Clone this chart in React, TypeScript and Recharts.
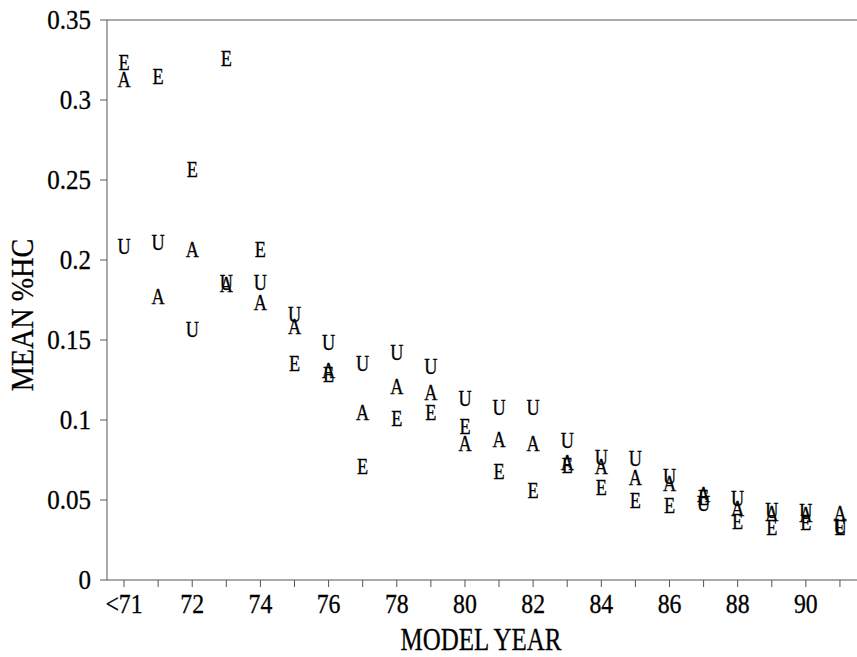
import { ReferenceLine, Scatter, ScatterChart, XAxis, YAxis } from "recharts";

// model years along the x axis (first bucket is everything before 1971)
const years = ["<71", "71", "72", "73", "74", "75", "76", "77", "78", "79", "80", "81", "82", "83", "84", "85", "86", "87", "88", "89", "90", "91"];

// mean %HC per model year, one list per group
const seriesU = [0.209, 0.211, 0.157, 0.186, 0.186, 0.166, 0.149, 0.1356, 0.1425, 0.134, 0.114, 0.108, 0.108, 0.0875, 0.077, 0.076, 0.065, 0.048, 0.051, 0.044, 0.043, 0.034];
const seriesA = [0.313, 0.1775, 0.207, 0.185, 0.174, 0.159, 0.131, 0.105, 0.121, 0.1175, 0.0856, 0.088, 0.0856, 0.074, 0.071, 0.0644, 0.0606, 0.054, 0.045, 0.042, 0.041, 0.042];
const seriesE = [0.324, 0.315, 0.257, 0.326, 0.207, 0.1356, 0.129, 0.071, 0.101, 0.105, 0.096, 0.068, 0.056, 0.072, 0.058, 0.05, 0.047, 0.052, 0.037, 0.033, 0.036, 0.033];

const yTicks = [0, 0.05, 0.1, 0.15, 0.2, 0.25, 0.3, 0.35];
const yTickLabels = ["0", "0.05", "0.1", "0.15", "0.2", "0.25", "0.3", "0.35"];

const FONT = "'Liberation Serif', 'Times New Roman', serif";
const AXIS = "#555";

const toPoints = (values: number[]) => values.map((y, i) => ({ x: i, y }));

// each point is drawn as its group letter, centred on the value
function letterShape(letter: string) {
  return (props: any) => {
    const { cx, cy } = props;
    if (cx == null || cy == null) return <g />;
    return (
      <text
        transform={`translate(${cx},${cy + 8}) scale(0.76,1)`}
        textAnchor="middle"
        fontFamily={FONT}
        fontSize={24}
        fill="#000"
        stroke="#000"
        strokeWidth={0.35}
      >
        {letter}
      </text>
    );
  };
}

function XTick(props: any) {
  const { x, y, payload } = props;
  const i = payload.value as number;
  if (i % 2 !== 0) return <g />;
  return (
    <text
      transform={`translate(${x},${y + 18}) scale(0.95,1.05)`}
      textAnchor="middle"
      fontFamily={FONT}
      fontSize={25}
      fill="#000"
      stroke="#000"
      strokeWidth={0.3}
    >
      {years[i]}
    </text>
  );
}

function YTick(props: any) {
  const { x, y, payload } = props;
  const idx = yTicks.indexOf(payload.value);
  return (
    <text
      transform={`translate(${x},${y + 9}) scale(1,1.05)`}
      textAnchor="end"
      fontFamily={FONT}
      fontSize={25}
      fill="#000"
      stroke="#000"
      strokeWidth={0.3}
    >
      {yTickLabels[idx]}
    </text>
  );
}

export default function App() {
  return (
    <div style={{ position: "absolute", left: 0, top: 0, background: "#fff" }}>
      <ScatterChart width={857} height={657} margin={{ top: 20, right: 0, bottom: 0, left: 0 }}>
        <XAxis
          type="number"
          dataKey="x"
          domain={[-0.5, 21.5]}
          ticks={years.map((_, i) => i)}
          interval={0}
          height={77}
          tickSize={7}
          tickMargin={8}
          stroke={AXIS}
          tick={<XTick />}
          label={{
            content: () => (
              <text
                transform="translate(481,650) scale(0.78,1.02)"
                textAnchor="middle"
                fontFamily={FONT}
                fontSize={32}
                fill="#000"
                stroke="#000"
                strokeWidth={0.3}
              >
                MODEL YEAR
              </text>
            ),
          }}
        />
        <YAxis
          type="number"
          dataKey="y"
          domain={[0, 0.35]}
          ticks={yTicks}
          interval={0}
          width={107}
          tickSize={7}
          tickMargin={9}
          stroke={AXIS}
          tick={<YTick />}
          label={{
            content: () => (
              <text
                transform="translate(33,315) rotate(-90) scale(0.88,1)"
                textAnchor="middle"
                fontFamily={FONT}
                fontSize={32}
                fill="#000"
                stroke="#000"
                strokeWidth={0.3}
              >
                MEAN %HC
              </text>
            ),
          }}
        />
        <ReferenceLine y={0.35} stroke={AXIS} strokeWidth={1} />
        <Scatter name="U" data={toPoints(seriesU)} shape={letterShape("U")} isAnimationActive={false} />
        <Scatter name="A" data={toPoints(seriesA)} shape={letterShape("A")} isAnimationActive={false} />
        <Scatter name="E" data={toPoints(seriesE)} shape={letterShape("E")} isAnimationActive={false} />
      </ScatterChart>
    </div>
  );
}
